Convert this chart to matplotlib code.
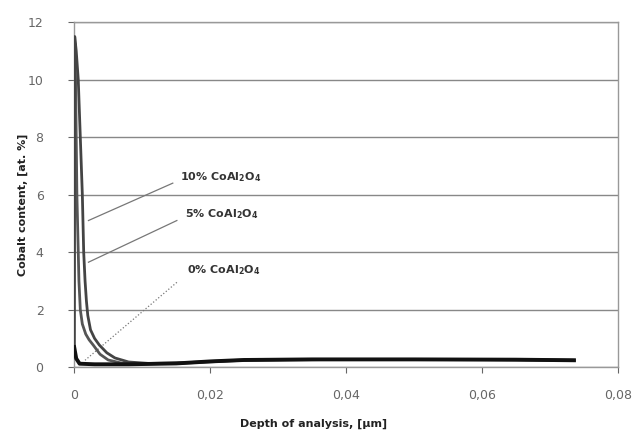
import matplotlib
matplotlib.use('Agg')
import matplotlib.pyplot as plt

# depth [um] and cobalt content [at. %]
depth_10 = [0.0, 0.00008, 0.0003, 0.0006, 0.0009, 0.0012, 0.0014, 0.0016, 0.0018, 0.002, 0.0024, 0.003,
            0.0037, 0.0048, 0.006, 0.008, 0.011, 0.016, 0.02, 0.025, 0.035, 0.05, 0.065, 0.0735]
co_10 = [0.8, 11.5, 11.0, 10.0, 8.0, 6.0, 4.0, 3.0, 2.3, 1.8, 1.3, 1.0,
         0.77, 0.5, 0.32, 0.18, 0.13, 0.15, 0.2, 0.25, 0.27, 0.27, 0.26, 0.24]

depth_5 = [0.0, 0.00008, 0.0002, 0.0003, 0.0004, 0.0006, 0.0007, 0.0009, 0.0012, 0.0017, 0.0022, 0.0028,
           0.0038, 0.005, 0.007, 0.01, 0.016, 0.025, 0.04, 0.06, 0.0735]
co_5 = [0.8, 11.2, 10.0, 8.0, 6.0, 4.0, 3.0, 2.0, 1.5, 1.15, 0.95, 0.77,
        0.45, 0.25, 0.14, 0.11, 0.14, 0.24, 0.27, 0.26, 0.24]

depth_0 = [0.0, 0.0003, 0.0008, 0.003, 0.008, 0.015, 0.02, 0.025, 0.035, 0.05, 0.065, 0.0735]
co_0 = [0.7, 0.3, 0.12, 0.1, 0.1, 0.13, 0.2, 0.25, 0.27, 0.27, 0.26, 0.24]

labels = ['10% CoAl$_\\mathbf{2}$O$_\\mathbf{4}$', '5% CoAl$_\\mathbf{2}$O$_\\mathbf{4}$', '0% CoAl$_\\mathbf{2}$O$_\\mathbf{4}$']
label_pos = [(0.0156, 6.6), (0.0163, 5.32), (0.0166, 3.37)]
arrow_end = [(0.0021, 5.1), (0.0021, 3.65), (0.0016, 0.24)]
arrow_start = [(0.0145, 6.4), (0.0151, 5.1), (0.0151, 2.95)]

xticks = [0, 0.02, 0.04, 0.06, 0.08]
xtick_labels = ['0', '0,02', '0,04', '0,06', '0,08']
yticks = [0, 2, 4, 6, 8, 10, 12]

fig = plt.figure(figsize=(6.34, 4.34), dpi=100, facecolor='white')
ax = fig.add_axes([0.117, 0.154, 0.858, 0.795])

ax.plot(depth_5, co_5, color='#555555', lw=2.0, zorder=3)
ax.plot(depth_10, co_10, color='#444444', lw=2.0, zorder=3)
ax.plot(depth_0, co_0, color='#111111', lw=2.8, zorder=4)

# leader lines + labels
styles = ['-', '-', ':']
for (tx, ty), (sx, sy), (ex, ey), lab, ls in zip(label_pos, arrow_start, arrow_end, labels, styles):
    ax.plot([sx, ex], [sy, ey], color='#777777', lw=0.9, ls=ls, zorder=2)
    ax.text(tx, ty, lab, fontsize=8, fontweight='bold', color='#333333', va='center', ha='left')

ax.set_xlim(0, 0.08)
ax.set_ylim(0, 12)
ax.set_xticks(xticks)
ax.set_xticklabels(xtick_labels)
ax.set_yticks(yticks)
ax.grid(axis='y', color='#888888', lw=1.0)
ax.set_axisbelow(True)

for s in ax.spines.values():
    s.set_color('#999999')
    s.set_linewidth(1.0)

ax.tick_params(axis='both', labelsize=9, colors='#666666', length=4, width=0.8, direction='out')
ax.tick_params(axis='x', pad=12)
ax.tick_params(axis='y', pad=18)

ax.set_xlabel('Depth of analysis, [\u00b5m]', fontsize=8, fontweight='bold', color='#222222')
ax.xaxis.set_label_coords(0.44, -0.15)
ax.set_ylabel('Cobalt content, [at. %]', fontsize=8, fontweight='bold', color='#222222')
ax.yaxis.set_label_coords(-0.085, 0.47)

fig.savefig('out.png', dpi=100, facecolor='white')
